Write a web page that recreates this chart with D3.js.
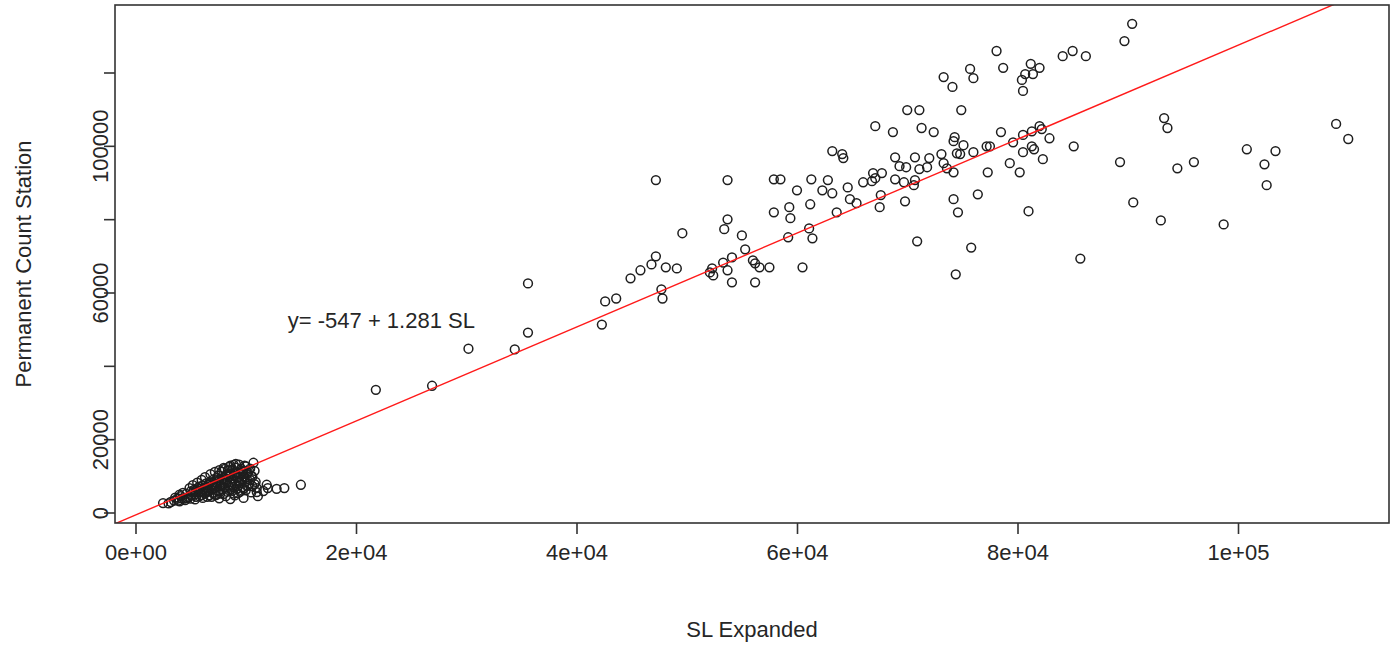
<!DOCTYPE html>
<html>
<head>
<meta charset="utf-8">
<script src="https://cdn.jsdelivr.net/npm/d3@7"></script>
<style>
  body { margin: 0; background: #fff; }
  text { font-family: "Liberation Sans", Arial, sans-serif; fill: #262626; }
</style>
</head>
<body>
<div id="chart"></div>
<script>
// SL expanded counts (x) vs permanent count station (y)
var slExpanded = [
    90400, 89700, 78100, 84100, 85000, 86200, 78700, 75700, 76000, 73300, 74100, 81200, 82000, 81400, 80700, 80400, 80500,
    70000, 71100, 74900, 67100, 68700, 71300, 72400, 74300, 74200, 75100, 78500, 77500, 77200, 79600, 80500, 81300, 82000,
    82200, 82900, 81300, 81500, 80500, 82300, 85100, 76000, 74500, 74800, 73100, 64100, 64200, 68900, 70700, 72000, 69300,
    69900, 71100, 71800, 73300, 73600, 74200, 77300, 79300, 80200, 89300, 67700, 66900, 67100, 66000, 68900, 69700, 70700,
    70600, 64600, 64800, 65400, 67600, 67500, 69800, 74200, 76400, 74600, 81000, 90500, 70900, 75800, 74400, 85700,
    93300, 93600, 108900, 110000, 100800, 103400, 102400, 102600, 94500, 96000, 93000, 98700,
    63200, 47200, 53700, 57900, 58500, 61300, 62800, 60000, 62300, 63200, 66800, 61200, 59300, 57900, 59400, 63600, 53700,
    53400, 49600, 55000, 61100, 61400, 59200, 55300, 47200, 46800, 45800, 44900, 48100, 49100, 54100, 53300, 52300, 52400,
    52100, 53700, 54100, 56000, 56200, 56600, 57500, 56200, 60500, 47700, 47800, 42600, 43600, 42300, 35600, 35600, 34400,
    30200, 26900, 21800,
    15000, 13500, 12800, 12000, 11600, 11100, 11000, 11900, 9800, 8600, 10700, 10800,
    2500, 3200, 3600, 3900, 4000, 4100, 4300, 4400, 4500, 4600, 4800, 4900, 5000, 5000, 5100, 5200, 5300, 5400, 5400, 5500,
    5600, 5600, 5700, 5800, 5900, 6000, 6000, 6100, 6100, 6200, 6300, 6300, 6400, 6500, 6500, 6600, 6700, 6800, 6800, 6900,
    6900, 7000, 7000, 7100, 7200, 7200, 7300, 7300, 7400, 7500, 7500, 7600, 7600, 7600, 7700, 7700, 7800, 7900, 7900, 8000,
    8000, 8100, 8100, 8200, 8200, 8300, 8300, 8400, 8400, 8500, 8500, 8600, 8600, 8600, 8700, 8800, 8800, 8900, 8900, 9000,
    9000, 9000, 9100, 9100, 9200, 9200, 9300, 9300, 9400, 9400, 9500, 9500, 9600, 9600, 9700, 9700, 9800, 9800, 9900, 9900,
    10000, 10000, 10100, 10200, 10200, 10300, 10400, 10400, 10500, 10500, 10600, 10600, 10900, 11000,
    5200, 5500, 5800, 6100, 6400, 6600, 6700, 7000, 7100, 7400, 7400, 7800, 7800, 8000, 8200, 8300, 8500, 8700, 8900, 9100,
    9300, 9500, 9600, 9900, 10100, 10300, 8000, 8800, 9300, 7200, 6500, 5800, 4700, 4200, 4000, 3800, 3500, 3000, 9800, 10800
];
var permanentCount = [
    133400, 128700, 126000, 124600, 126000, 124600, 121400, 121100, 118600, 118900, 116200, 122500, 121400, 119700, 119700, 118100, 115100,
    109900, 109900, 109900, 105500, 103900, 105000, 103900, 102500, 101400, 100300, 103900, 100000, 100000, 101100, 103100, 104100, 105500,
    104700, 102200, 100000, 99200, 98400, 96500, 100000, 98400, 98100, 97900, 97900, 97900, 96800, 97000, 97000, 96800, 94600,
    94300, 93800, 94300, 95400, 94000, 92900, 92900, 95400, 92900, 95700, 92700, 92700, 91300, 90200, 91000, 90200, 90800,
    89400, 88800, 85600, 84500, 86700, 83400, 85000, 85600, 86900, 82000, 82300, 84700, 74100, 72400, 65100, 69400,
    107700, 105000, 106100, 102000, 99200, 98700, 95100, 89400, 94000, 95700, 79800, 78700,
    98700, 90800, 90800, 91000, 91000, 91000, 90800, 88000, 88000, 87200, 90500, 84200, 83400, 82000, 80400, 82000, 80100,
    77400, 76300, 75700, 77600, 74900, 75200, 71900, 70000, 67800, 66200, 64000, 67000, 66700, 69700, 68300, 66700, 64800,
    65600, 66200, 62900, 68900, 68100, 67000, 67000, 62900, 67000, 61000, 58500, 57700, 58500, 51400, 62600, 49200, 44600,
    44800, 34700, 33600,
    7700, 6800, 6600, 6800, 6000, 4600, 5700, 7700, 4100, 3800, 13700, 11500,
    2700, 3000, 4200, 3400, 3200, 4600, 5500, 3900, 3500, 5200, 4300, 6800, 5900, 3900, 4800, 7600, 6300, 5100, 3700, 4400,
    6800, 8300, 5600, 7200, 6000, 4900, 9000, 7500, 4100, 6400, 5300, 9800, 8100, 6900, 5800, 7600, 4800, 8600, 10600, 6300,
    4400, 7900, 5500, 9200, 6800, 11200, 8400, 4900, 7200, 10200, 6000, 8900, 11700, 4000, 7700, 5300, 11300, 9500, 6500, 8200,
    12300, 12000, 7000, 10100, 4600, 5800, 9000, 11600, 7600, 12600, 6200, 10600, 8400, 12900, 9400, 11900, 7100, 13100, 5300, 10300,
    8000, 4800, 12400, 13400, 6600, 9600, 11000, 7400, 13200, 8600, 10700, 5800, 12000, 9200, 7000, 11300, 11500, 10000, 8300, 12900,
    12700, 6200, 9300, 11000, 7400, 8000, 12100, 9000, 10100, 5600, 7300, 9900, 8500, 6800,
    5600, 6100, 6600, 5700, 7200, 6100, 8000, 6600, 7400, 8000, 9600, 8500, 7300, 9500, 8800, 10600, 9900, 7700, 9000, 10800,
    9900, 8200, 10400, 9600, 10600, 11500, 5200, 6100, 5400, 5000, 4400, 4600, 4000, 4000, 5000, 3900, 3400, 2600, 6700, 7900
];

var xTicks = [0, 20000, 40000, 60000, 80000, 100000];
var xTickLabels = ["0e+00", "2e+04", "4e+04", "6e+04", "8e+04", "1e+05"];
var yTicks = [0, 20000, 40000, 60000, 80000, 100000, 120000];
var yLabelTicks = [0, 20000, 60000, 100000];
var yTickLabels = ["0", "20000", "60000", "100000"];

var fitIntercept = -547;
var fitSlope = 1.281;
var fitLabel = "y= -547 + 1.281 SL";

var width = 1396;
var height = 646;
var box = { left: 115, right: 1389, top: 5, bottom: 523 };

var points = slExpanded.map(function (d, i) {
    return { sl: d, pcs: permanentCount[i] };
});

var x = d3.scaleLinear().domain([0, 100000]).range([135.5, 1238]);
var y = d3.scaleLinear().domain([0, 120000]).range([513, 73]);

var svg = d3.select("#chart")
    .append("svg")
    .attr("width", width)
    .attr("height", height);

svg.append("defs").append("clipPath")
    .attr("id", "plotClip")
    .append("rect")
    .attr("x", box.left)
    .attr("y", box.top)
    .attr("width", box.right - box.left)
    .attr("height", box.bottom - box.top);

// points
svg.append("g")
    .selectAll("circle")
    .data(points)
    .enter()
    .append("circle")
    .attr("cx", function (d) { return x(d.sl); })
    .attr("cy", function (d) { return y(d.pcs); })
    .attr("r", 4.4)
    .attr("fill", "none")
    .attr("stroke", "#1e1e1e")
    .attr("stroke-width", 1.5);

// regression line
var x0 = x.invert(box.left), x1 = x.invert(box.right);
svg.append("line")
    .attr("clip-path", "url(#plotClip)")
    .attr("x1", x(x0))
    .attr("y1", y(fitIntercept + fitSlope * x0))
    .attr("x2", x(x1))
    .attr("y2", y(fitIntercept + fitSlope * x1))
    .attr("stroke", "#ff1a1a")
    .attr("stroke-width", 1.4);

// box
svg.append("rect")
    .attr("x", box.left)
    .attr("y", box.top)
    .attr("width", box.right - box.left)
    .attr("height", box.bottom - box.top)
    .attr("fill", "none")
    .attr("stroke", "#333")
    .attr("stroke-width", 1.6);

// x axis
var xAxis = svg.append("g")
    .attr("transform", "translate(0," + box.bottom + ")")
    .call(d3.axisBottom(x)
        .tickValues(xTicks)
        .tickSize(11)
        .tickPadding(10)
        .tickFormat(function (d, i) { return xTickLabels[i]; }));
xAxis.select(".domain").remove();
xAxis.selectAll(".tick line").attr("stroke", "#333").attr("stroke-width", 1.6);
xAxis.selectAll(".tick text")
    .style("font-size", "22px")
    .attr("font-family", null)
    .attr("fill", "#262626");

// y axis (ticks only, labels rotated like R)
svg.append("g")
    .selectAll("line")
    .data(yTicks)
    .enter()
    .append("line")
    .attr("x1", box.left - 11)
    .attr("x2", box.left)
    .attr("y1", function (d) { return y(d); })
    .attr("y2", function (d) { return y(d); })
    .attr("stroke", "#333")
    .attr("stroke-width", 1.6);

svg.append("g")
    .selectAll("text")
    .data(yLabelTicks)
    .enter()
    .append("text")
    .attr("transform", function (d) { return "translate(108," + y(d) + ") rotate(-90)"; })
    .attr("text-anchor", "middle")
    .style("font-size", "22px")
    .text(function (d, i) { return yTickLabels[i]; });

// axis titles
svg.append("text")
    .attr("x", (box.left + box.right) / 2)
    .attr("y", 637)
    .attr("text-anchor", "middle")
    .style("font-size", "22px")
    .text("SL Expanded");

svg.append("text")
    .attr("transform", "translate(31," + (box.top + box.bottom) / 2 + ") rotate(-90)")
    .attr("text-anchor", "middle")
    .style("font-size", "22px")
    .text("Permanent Count Station");

// fit equation
svg.append("text")
    .attr("x", x(22300))
    .attr("y", y(52500))
    .attr("dy", "0.35em")
    .attr("text-anchor", "middle")
    .style("font-size", "22px")
    .text(fitLabel);
</script>
</body>
</html>
